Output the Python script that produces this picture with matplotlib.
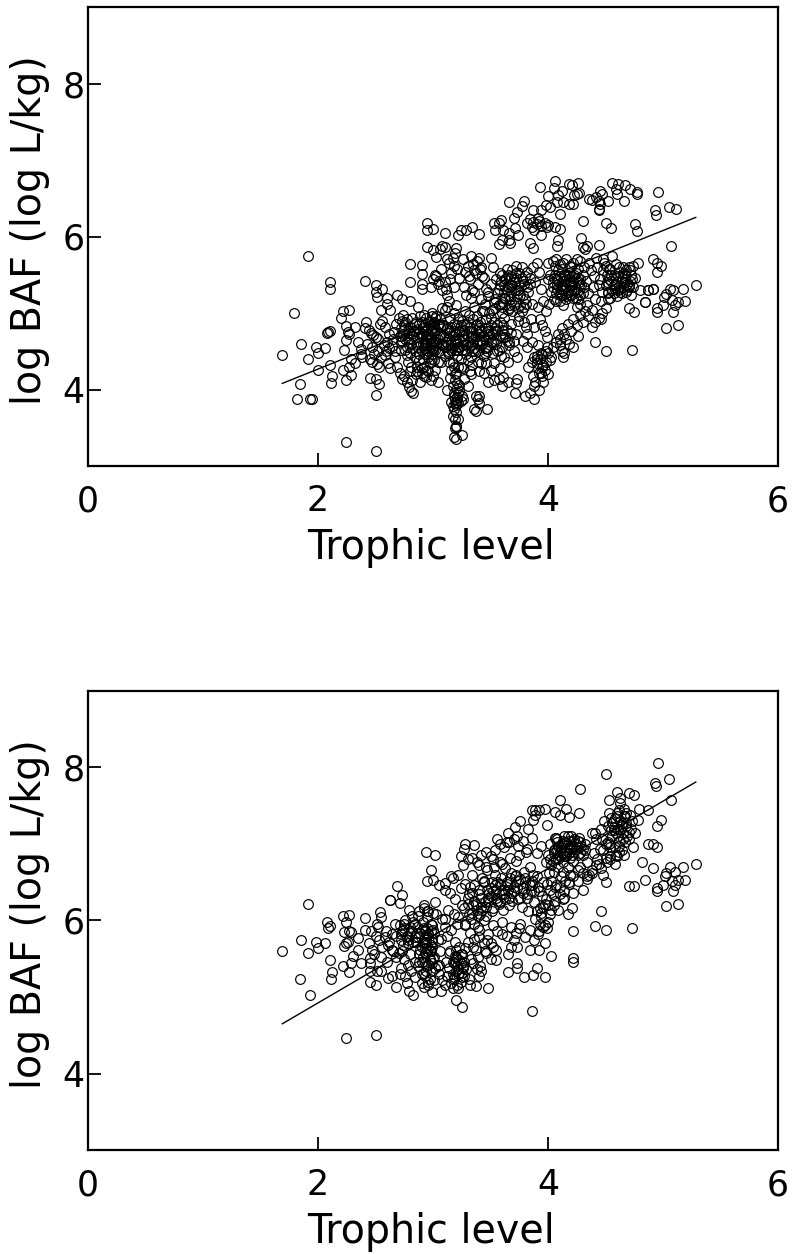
import numpy as np
import matplotlib
matplotlib.use("Agg")
import matplotlib.pyplot as plt

# -----------------------------
# FIT LINES
# -----------------------------
line_tl = [1.69, 5.285]
line_top = [4.08, 6.25]
line_bot = [4.65, 7.81]

# -----------------------------
# TOP PANEL DATA (region by region)
# -----------------------------
# left side and outliers
top_x1 = [1.69,1.91,1.79,2.10,2.10,2.41,2.24,2.50,1.85,1.91,
          1.98,2.00,2.06,2.08,2.09,2.10,2.00,2.10,1.84,1.82,
          1.93,1.95,2.12,2.11,2.22,2.27,2.20,2.24,2.26,2.27,
          2.24,2.23,2.22,2.24,2.29,2.27,2.29,2.32,2.32,2.35,
          2.37,2.37,2.38,2.41,2.42,2.45,2.50,2.53,2.50,2.50,
          2.50,2.51,2.56,2.60,2.60,2.55,2.63,2.69,2.73,2.80,2.87]
top_y1 = [4.45,5.75,5.00,5.41,5.31,5.42,3.32,3.20,4.59,4.40,
          4.56,4.48,4.54,4.74,4.75,4.76,4.25,4.32,4.07,3.88,
          3.88,3.87,4.18,4.08,5.03,5.04,4.93,4.83,4.75,4.72,
          4.65,4.51,4.25,4.13,4.19,4.30,4.40,4.34,4.82,4.62,
          4.53,4.47,4.43,4.80,4.88,4.15,4.14,4.07,3.93,5.36,
          5.27,5.21,5.31,5.19,5.12,5.04,5.04,5.23,5.18,5.16,5.08]
# low band 2.4 - 2.85
top_x2 = [2.44,2.46,2.48,2.50,2.52,2.45,2.47,2.49,2.51,2.53,
          2.55,2.57,2.59,2.61,2.63,2.54,2.56,2.58,2.60,2.62,
          2.65,2.67,2.69,2.71,2.73,2.64,2.66,2.68,2.70,2.72,
          2.75,2.77,2.79,2.81,2.83,2.74,2.76,2.78,2.80,2.82,
          2.43,2.47,2.52,2.58,2.62,2.67,2.72,2.77,2.81,2.85]
top_y2 = [4.78,4.74,4.71,4.68,4.66,4.40,4.36,4.46,4.33,4.29,
          4.42,4.58,4.50,4.35,4.28,4.85,4.89,4.82,4.62,4.54,
          4.66,4.43,4.30,4.22,4.14,4.57,4.75,4.86,4.94,4.70,
          4.18,4.10,4.03,3.98,3.96,4.98,4.52,4.36,4.24,4.12,
          4.60,4.55,4.50,4.45,4.72,4.50,4.62,4.45,4.30,4.20]
# first dense blob 2.7 - 3.05
top_x3 = [2.72,2.74,2.76,2.78,2.80,2.82,2.84,2.86,2.88,2.90,
          2.73,2.75,2.77,2.79,2.81,2.83,2.85,2.87,2.89,2.91,
          2.92,2.93,2.94,2.95,2.96,2.97,2.98,2.99,3.00,3.01,
          2.92,2.93,2.94,2.95,2.96,2.97,2.98,2.99,3.00,3.01,
          2.90,2.91,2.93,2.95,2.97,2.99,3.01,3.02,3.03,3.04,
          2.88,2.90,2.92,2.94,2.96,2.98,3.00,3.02,3.04,3.05,
          2.86,2.88,2.90,2.92,2.94,2.96,2.98,3.00,3.02,3.04,
          2.84,2.86,2.89,2.91,2.93,2.95,2.97,2.99,3.01,3.03]
top_y3 = [4.80,4.72,4.88,4.66,4.82,4.94,4.76,4.60,4.86,4.70,
          4.64,4.78,4.92,4.74,4.60,4.70,4.88,4.79,4.96,4.60,
          4.98,4.84,4.70,4.56,4.42,4.90,4.76,4.62,4.50,4.38,
          4.30,4.62,4.94,4.48,4.80,4.34,4.68,5.00,4.54,4.86,
          4.22,4.40,4.76,4.26,4.66,4.46,4.72,4.94,4.58,4.36,
          4.46,4.88,4.54,4.66,4.88,4.40,4.82,4.64,4.84,4.70,
          4.30,4.38,4.28,4.18,4.16,4.24,4.12,4.18,4.26,4.10,
          4.42,4.24,4.10,4.72,4.58,4.72,4.56,4.96,4.88,4.96]
# second dense blob 3.05 - 3.7
top_x4 = [3.06,3.08,3.10,3.12,3.14,3.16,3.18,3.20,3.22,3.24,
          3.07,3.09,3.11,3.13,3.15,3.17,3.19,3.21,3.23,3.25,
          3.26,3.28,3.30,3.32,3.34,3.36,3.38,3.40,3.42,3.44,
          3.27,3.29,3.31,3.33,3.35,3.37,3.39,3.41,3.43,3.45,
          3.46,3.48,3.50,3.52,3.54,3.56,3.58,3.60,3.62,3.64,
          3.47,3.49,3.51,3.53,3.55,3.57,3.59,3.61,3.63,3.65,
          3.06,3.10,3.14,3.18,3.22,3.26,3.30,3.34,3.38,3.42,
          3.08,3.12,3.16,3.20,3.24,3.28,3.32,3.36,3.40,3.44,
          3.46,3.50,3.54,3.58,3.62,3.66,3.68,3.70,3.72,3.74,
          3.10,3.15,3.20,3.25,3.30,3.35,3.40,3.45,3.50,3.55,
          3.05,3.13,3.21,3.29,3.37,3.45,3.53,3.61,3.69,3.77,
          3.09,3.17,3.25,3.33,3.41,3.49,3.57,3.65,3.73,3.81]
top_y4 = [4.72,4.58,4.44,4.80,4.66,4.52,4.86,4.72,4.56,4.40,
          4.36,4.84,4.62,4.48,4.94,4.34,4.60,4.44,4.76,4.90,
          4.66,4.52,4.38,4.82,4.68,4.54,4.96,4.72,4.58,4.44,
          4.86,4.72,4.98,4.42,4.60,4.78,4.36,4.88,5.02,4.66,
          4.92,4.76,4.62,4.48,5.06,4.84,4.70,4.56,4.94,4.78,
          4.50,5.00,4.72,4.88,4.60,5.10,4.44,4.84,4.68,5.04,
          4.92,5.04,4.36,5.00,4.92,4.28,4.70,4.32,4.86,4.34,
          5.06,5.08,4.26,5.10,4.30,5.02,4.24,5.08,4.24,5.02,
          4.34,4.26,4.76,4.28,4.42,4.62,4.86,4.50,4.72,4.90,
          4.68,4.76,4.64,4.76,4.62,4.92,4.64,4.80,4.94,4.66,
          4.86,4.58,4.62,4.84,4.70,4.54,4.34,4.68,5.02,5.02,
          4.60,4.70,4.52,4.58,4.76,4.68,4.52,4.36,4.42,4.82]
# lower tail near 3.2 and scattered low points
top_x5 = [3.12,3.15,3.17,3.18,3.19,3.20,3.21,3.22,3.23,3.24,
          3.16,3.17,3.18,3.19,3.20,3.21,3.22,3.23,3.25,3.26,
          3.19,3.20,3.20,3.19,3.20,3.25,3.18,3.22,3.36,3.40,
          3.37,3.39,3.40,3.47,3.37,3.27,3.30,3.33,3.44,3.48,
          3.53,3.57,3.61,3.60,3.65,3.71,3.73,3.72,3.80,3.88,
          3.84,3.88,3.92,3.95,3.97,3.87,3.89,3.91,3.94,3.96,
          3.86,3.88,3.90,3.93,3.95,3.98,4.00,4.02,4.04,3.83,
          4.07,4.10,4.12,4.14,4.16,4.09,4.13,4.18,4.22,4.26]
top_y5 = [4.00,4.15,4.05,3.96,3.88,3.84,3.90,3.95,4.06,3.85,
          3.84,3.78,3.74,3.82,3.70,3.86,3.82,3.98,3.92,3.88,
          3.62,3.52,3.51,3.50,3.35,3.40,3.38,3.62,3.75,3.92,
          3.92,3.88,3.83,3.75,3.72,4.14,4.05,4.20,4.22,4.10,
          4.12,4.14,4.16,4.05,4.10,3.95,4.14,4.08,3.92,3.88,
          3.96,4.05,4.00,4.18,4.25,4.18,4.10,4.28,4.22,4.32,
          4.36,4.42,4.35,4.40,4.45,4.50,4.48,4.38,4.55,4.30,
          4.62,4.58,4.50,4.48,4.66,4.72,4.42,4.60,4.55,4.70]
# mid blob 3.4 - 3.95, y 5 - 5.7
top_x6 = [3.45,3.48,3.51,3.54,3.57,3.60,3.63,3.66,3.69,3.72,
          3.50,3.53,3.56,3.59,3.62,3.65,3.68,3.71,3.74,3.77,
          3.55,3.58,3.61,3.64,3.67,3.70,3.73,3.76,3.79,3.82,
          3.60,3.63,3.66,3.69,3.72,3.75,3.78,3.81,3.84,3.87,
          3.62,3.65,3.68,3.71,3.74,3.77,3.80,3.83,3.86,3.89,
          3.90,3.92,3.94,3.96,3.98,4.00,3.91,3.93,3.95,3.97,
          3.99,3.75,3.79,3.82,3.85,3.88,3.78,3.82,3.86,3.90]
top_y6 = [5.12,5.28,5.04,5.18,5.32,5.08,5.44,5.22,5.36,5.52,
          5.38,5.14,5.26,5.42,5.28,5.34,5.48,5.14,5.30,5.46,
          5.44,5.52,5.14,5.58,5.10,5.44,5.22,5.10,5.38,5.54,
          5.00,5.20,5.06,5.56,5.62,5.36,5.24,5.12,5.46,5.60,
          5.36,5.50,5.28,5.30,5.06,5.60,5.48,5.28,5.12,5.40,
          5.66,5.54,5.32,5.16,5.02,5.44,5.08,4.92,4.84,4.76,
          4.68,4.96,4.88,4.72,4.92,4.82,4.64,4.56,4.62,4.44]
# upper left scatter 2.8 - 3.6, y 5.2 - 6.2
top_x7 = [2.80,2.80,2.90,2.90,2.90,2.90,2.95,2.95,3.00,3.10,
          2.95,3.00,3.03,3.08,3.06,3.10,3.20,3.22,3.24,3.29,
          3.34,3.40,3.00,3.02,3.04,3.07,3.11,3.12,3.14,3.16,
          3.18,3.15,3.17,3.19,3.21,3.23,3.26,3.28,3.30,3.32,
          3.34,3.36,3.38,3.40,3.42,3.44,3.46,3.48,3.27,3.29,
          3.31,3.33,3.35,3.37,3.39,3.12,3.14,3.18,3.10,3.08,
          3.03,2.98,3.05,3.41,3.43,3.36,3.33,3.50,3.52,3.42]
top_y7 = [5.64,5.40,5.63,5.51,5.38,5.32,6.17,6.09,6.10,6.05,
          5.86,5.82,5.73,5.87,5.84,5.86,5.85,6.02,6.09,6.08,
          6.12,6.03,5.45,5.50,5.38,5.58,5.32,5.70,5.66,5.52,
          5.62,5.44,5.72,5.78,5.58,5.46,5.70,5.54,5.62,5.44,
          5.30,5.56,5.68,5.72,5.60,5.46,5.32,5.22,5.34,5.24,
          5.48,5.74,5.64,5.52,5.38,5.24,5.16,5.34,5.40,5.30,
          5.48,5.34,5.42,5.58,5.48,5.28,5.20,5.72,5.60,5.18]
# upper band 3.5 - 5.2
top_x8 = [3.66,3.79,3.77,3.73,3.70,3.53,3.59,3.57,3.54,3.61,
          3.71,3.74,3.66,3.66,3.60,3.57,3.67,3.87,3.94,3.84,
          3.82,3.86,3.87,3.90,3.92,3.94,3.97,3.99,3.88,3.91,
          3.94,3.84,3.87,4.06,4.10,4.09,4.08,4.00,3.93,4.06,
          4.05,4.00,4.12,4.18,4.21,4.26,4.25,4.27,4.23,4.08,
          4.13,4.18,4.22,4.09,4.02,3.98,4.10,4.30,4.29,4.30,
          4.32,4.34,4.44,4.50,4.55,4.38,4.42,4.45,4.44,4.44,
          4.45,4.52,4.47,4.36,4.44,4.56,4.61,4.67,4.71,4.59,
          4.60,4.66,4.77,4.77,4.96,4.93,4.94,5.05,5.11,4.76,
          4.77,5.07]
top_y8 = [6.45,6.46,6.40,6.32,6.24,6.17,6.22,6.17,6.08,6.08,
          6.11,6.02,6.04,5.95,5.95,5.90,5.92,6.34,6.34,6.23,
          6.17,6.12,6.19,6.16,6.20,6.14,6.18,6.12,6.08,6.24,
          6.02,5.92,5.85,6.12,6.10,5.96,5.88,6.15,6.65,6.72,
          6.64,6.53,6.60,6.69,6.67,6.70,6.56,6.57,6.54,6.45,
          6.45,6.43,6.43,6.54,6.38,6.41,6.30,6.20,5.98,5.86,
          5.84,5.88,5.89,6.18,6.11,6.48,6.51,6.60,6.47,6.36,
          6.43,6.47,6.56,6.49,6.34,6.70,6.69,6.67,6.62,6.62,
          6.56,6.47,6.56,6.58,6.58,6.34,6.28,6.38,6.36,6.16,
          6.07,5.88]
# right dense blobs 4.0 - 4.8
top_x9 = [4.00,4.02,4.04,4.06,4.08,4.10,4.12,4.14,4.16,4.18,
          4.01,4.03,4.05,4.07,4.09,4.11,4.13,4.15,4.17,4.19,
          4.20,4.21,4.22,4.23,4.24,4.25,4.26,4.27,4.28,4.30,
          4.04,4.07,4.10,4.13,4.16,4.19,4.22,4.25,4.28,4.31,
          4.33,4.35,4.37,4.39,4.41,4.43,4.45,4.47,4.49,4.51,
          4.34,4.36,4.38,4.40,4.42,4.44,4.46,4.48,4.50,4.52,
          4.53,4.55,4.57,4.59,4.61,4.63,4.65,4.67,4.69,4.71,
          4.54,4.56,4.58,4.60,4.62,4.64,4.66,4.68,4.70,4.72,
          4.74,4.76,4.78,4.80,4.50,4.47,4.44,4.41,4.38,4.35,
          4.32,4.30,4.28,4.25,4.22,4.20,4.17,4.14,4.12,4.10,
          4.84,4.87,4.91,4.91,4.95,4.98,4.95,5.06,5.03,5.01,
          5.09,5.17,5.08,5.19,5.13,5.10,5.09,4.95,4.95,5.00,
          5.03,5.13,4.84,4.87,4.91,5.29,4.41,4.50,4.73,4.46,4.70,4.75]
top_y9 = [5.66,5.50,5.34,5.62,5.44,5.24,5.58,5.38,5.18,5.52,
          5.12,5.28,5.46,5.16,5.56,5.32,5.10,5.48,5.28,5.42,
          5.60,5.36,5.20,5.50,5.32,5.08,5.58,5.40,5.24,5.50,
          5.68,5.70,5.64,5.66,5.70,5.62,5.66,5.70,5.68,5.60,
          5.42,5.26,5.56,5.34,5.18,5.60,5.44,5.28,5.66,5.50,
          5.10,5.66,5.04,5.48,5.72,5.36,5.16,5.70,5.36,5.18,
          5.58,5.42,5.26,5.64,5.48,5.32,5.60,5.44,5.30,5.56,
          5.20,5.74,5.36,5.22,5.60,5.26,5.40,5.56,5.34,5.50,
          5.62,5.46,5.66,5.30,5.06,5.00,4.94,4.88,4.82,4.96,
          5.02,4.88,4.98,4.84,4.92,4.76,4.86,4.72,4.80,4.66,
          5.15,5.30,5.31,5.70,5.66,5.62,5.54,5.32,5.25,5.21,
          5.30,5.32,5.17,5.16,5.14,5.10,5.01,5.06,5.01,5.11,
          4.80,4.84,5.15,5.30,5.31,5.36,4.62,4.50,4.52,4.92,5.07,5.01]
# extra points filling the darkest clusters
top_x10 = [2.71,2.75,2.79,2.83,2.87,2.91,2.95,2.99,3.03,3.07,
           2.73,2.77,2.81,2.85,2.89,2.93,2.97,3.01,3.05,3.09,
           2.72,2.76,2.80,2.84,2.88,2.92,2.96,3.00,3.04,3.08,
           2.78,2.82,2.86,2.90,2.94,2.98,3.02,3.06,3.10,3.14,
           3.11,3.15,3.19,3.23,3.27,3.31,3.35,3.39,3.43,3.47,
           3.13,3.17,3.21,3.25,3.29,3.33,3.37,3.41,3.45,3.49,
           3.12,3.16,3.20,3.24,3.28,3.32,3.36,3.40,3.44,3.48,
           3.14,3.18,3.22,3.26,3.30,3.34,3.38,3.42,3.46,3.50,
           3.52,3.56,3.60,3.64,3.68,3.54,3.58,3.62,3.66,3.70,
           3.18,3.19,3.20,3.21,3.22,3.17,3.18,3.19,3.20,3.21]
top_y10 = [4.70,4.84,4.62,4.76,4.56,4.80,4.66,4.52,4.78,4.60,
           4.90,4.56,4.72,4.50,4.68,4.46,4.84,4.62,4.50,4.70,
           4.52,4.66,4.48,4.86,4.74,4.64,4.50,4.76,4.66,4.84,
           4.78,4.54,4.68,4.52,4.76,4.60,4.52,4.82,4.56,4.74,
           4.62,4.82,4.52,4.66,4.78,4.56,4.70,4.50,4.64,4.76,
           4.50,4.70,4.84,4.58,4.46,4.68,4.84,4.62,4.48,4.72,
           4.80,4.56,4.66,4.84,4.60,4.76,4.50,4.80,4.70,4.56,
           4.46,4.76,4.52,4.70,4.88,4.50,4.64,4.78,4.54,4.84,
           4.64,4.50,4.78,4.64,4.74,4.80,4.88,4.72,4.58,4.64,
           4.30,4.12,4.22,4.02,4.30,3.66,3.92,4.20,3.80,4.08]
top_x11 = [3.58,3.62,3.66,3.70,3.74,3.78,3.82,3.60,3.64,3.68,
           3.72,3.76,3.80,3.84,3.59,3.63,3.67,3.71,3.75,3.79,
           4.04,4.07,4.10,4.13,4.16,4.19,4.22,4.25,4.28,4.31,
           4.05,4.08,4.11,4.14,4.17,4.20,4.23,4.26,4.29,4.06,
           4.09,4.12,4.15,4.18,4.21,4.24,4.27,4.30,4.10,4.14,
           4.18,4.22,4.26,4.12,4.16,4.20,4.24,4.08,4.18,4.28,
           4.52,4.55,4.58,4.61,4.64,4.67,4.70,4.73,4.53,4.56,
           4.59,4.62,4.65,4.68,4.71,4.74,4.54,4.57,4.60,4.63,
           4.66,4.69,4.72,4.51,4.58,4.64,4.70,4.48,4.50,4.52,
           3.90,3.92,3.94,3.96,3.98,4.00,3.91,3.95,3.99,4.03]
top_y11 = [5.36,5.20,5.44,5.10,5.30,5.42,5.34,5.50,5.30,5.36,
           5.46,5.24,5.18,5.38,5.12,5.44,5.18,5.40,5.52,5.08,
           5.40,5.26,5.48,5.30,5.22,5.34,5.42,5.28,5.44,5.34,
           5.18,5.36,5.32,5.42,5.50,5.24,5.30,5.46,5.36,5.50,
           5.42,5.24,5.34,5.44,5.48,5.20,5.36,5.26,5.16,5.50,
           5.24,5.40,5.18,5.36,5.44,5.30,5.52,5.32,5.36,5.12,
           5.26,5.50,5.38,5.30,5.42,5.50,5.36,5.44,5.44,5.30,
           5.46,5.54,5.34,5.28,5.42,5.34,5.58,5.50,5.40,5.28,
           5.52,5.38,5.24,5.40,5.32,5.46,5.60,5.56,5.62,5.28,
           4.40,4.22,4.48,4.10,4.36,4.20,4.58,4.30,4.56,4.42]

# -----------------------------
# BOTTOM PANEL DATA
# -----------------------------
# outliers and left side
bot_x1 = [1.69,1.91,1.85,1.91,1.98,2.00,2.06,2.08,2.10,2.09,
          2.10,2.12,2.11,1.84,1.93,2.22,2.27,2.24,2.23,2.27,
          2.29,2.24,2.23,2.26,2.22,2.27,2.29,2.30,2.35,2.37,
          2.35,2.41,2.41,2.24,2.50,2.45,2.45,2.45,2.51,2.55,
          2.45,2.50,2.61,2.64,2.68,2.71,2.77,2.79,2.83,2.92,
          2.99,2.54,2.55,2.51,2.63,2.63,2.71,2.69,2.73]
bot_y1 = [5.60,6.22,5.74,5.57,5.72,5.64,5.71,5.98,5.93,5.90,
          5.48,5.33,5.24,5.23,5.02,6.06,6.07,5.98,5.85,5.86,
          5.85,5.71,5.67,5.72,5.40,5.33,5.44,5.54,5.62,5.45,
          5.77,6.03,5.88,4.47,4.50,5.51,5.45,5.34,5.34,5.34,
          5.19,5.16,5.25,5.27,5.13,5.30,5.18,5.08,5.03,5.13,
          5.06,6.11,6.05,5.95,6.27,6.27,6.23,6.45,6.33]
# upper edge and right scatter
bot_x2 = [2.94,3.02,2.98,2.95,3.00,3.05,3.10,3.17,3.28,3.36,
          3.27,3.24,3.56,3.65,3.71,3.76,3.73,3.83,3.86,3.89,
          3.92,3.97,3.89,3.87,3.99,4.06,4.10,4.16,4.18,4.10,
          4.28,4.27,4.50,4.96,4.93,4.94,5.05,5.07,4.60,4.70,
          4.75,4.53,4.63,4.63,4.87,4.79,4.98,4.95,4.87,4.91,
          4.95,4.91,4.82,5.29,5.17,5.06,5.03,5.02,5.10,5.08,
          5.19,5.13,5.10,5.09,4.95,4.95,5.00,5.03,5.13,4.84,
          4.70,4.75,4.48,4.50,4.46,4.41,4.50,4.73,4.22,4.22,
          4.22,3.86,4.03,3.90,3.87,3.79,3.97,3.73,3.73,3.65,
          3.68,3.73,3.84,3.92,3.97,3.48,3.37,3.25,3.20,3.17]
bot_y2 = [6.89,6.85,6.66,6.52,6.53,6.47,6.49,6.56,7.00,6.99,
          6.94,6.84,7.06,7.15,7.22,7.30,7.11,7.19,7.44,7.45,
          7.45,7.46,7.38,7.32,7.25,7.42,7.58,7.46,7.35,7.38,
          7.72,7.41,7.91,8.06,7.80,7.76,7.85,7.57,7.68,7.67,
          7.64,7.57,7.60,7.54,7.45,7.46,7.31,7.24,7.00,7.00,
          6.96,6.69,6.77,6.74,6.70,6.70,6.62,6.58,6.64,6.51,
          6.53,6.53,6.46,6.38,6.43,6.38,6.46,6.19,6.22,6.53,
          6.45,6.45,6.60,6.50,6.12,5.93,5.87,5.90,5.86,5.51,
          5.46,4.82,5.53,5.38,5.29,5.26,5.26,5.44,5.38,5.33,
          5.66,5.66,5.62,5.62,5.71,5.12,5.14,4.87,4.96,5.12]
# dense band 2.4 - 3.1
bot_x3 = [2.44,2.47,2.50,2.53,2.56,2.59,2.62,2.65,2.68,2.71,
          2.46,2.49,2.52,2.55,2.58,2.61,2.64,2.67,2.70,2.73,
          2.72,2.74,2.76,2.78,2.80,2.82,2.84,2.86,2.88,2.90,
          2.73,2.75,2.77,2.79,2.81,2.83,2.85,2.87,2.89,2.91,
          2.92,2.93,2.94,2.95,2.96,2.97,2.98,2.99,3.00,3.01,
          2.90,2.91,2.92,2.93,2.94,2.95,2.96,2.97,2.98,2.99,
          2.92,2.94,2.96,2.98,3.00,3.02,3.04,3.06,3.08,3.10,
          2.88,2.90,2.93,2.95,2.97,2.99,3.01,3.03,3.05,3.07,
          2.75,2.78,2.81,2.84,2.87,2.90,2.93,2.96,2.99,3.02,
          2.60,2.64,2.68,2.72,2.76,2.80,2.84,2.88,2.92,2.96]
bot_y3 = [5.70,5.62,5.80,5.74,5.66,5.86,5.72,5.60,5.80,5.94,
          5.86,5.56,5.92,5.52,5.78,5.68,5.82,5.96,5.58,5.86,
          5.74,5.88,6.00,5.70,5.84,6.06,5.78,5.92,6.12,5.66,
          5.60,5.96,5.78,6.14,5.86,5.98,5.72,6.06,5.84,5.98,
          6.16,5.88,5.72,6.04,5.82,5.62,5.96,5.76,6.10,5.52,
          5.46,5.70,5.90,5.58,5.40,5.80,5.64,5.48,5.86,5.34,
          6.20,5.34,6.12,5.60,5.88,6.24,5.74,5.60,6.02,5.92,
          5.56,5.30,5.28,6.12,5.24,5.44,5.22,6.08,5.42,5.76,
          5.50,5.42,5.34,5.46,5.40,5.18,5.64,5.20,5.72,5.38,
          5.46,5.62,5.52,5.38,5.28,5.56,5.26,5.46,5.32,5.16]
# lower tail near 3.2
bot_x4 = [3.05,3.08,3.10,3.12,3.14,3.16,3.18,3.20,3.22,3.24,
          3.15,3.17,3.19,3.21,3.23,3.25,3.27,3.29,3.31,3.33,
          3.17,3.18,3.19,3.20,3.21,3.22,3.23,3.24,3.25,3.26,
          3.35,3.38,3.40,3.42,3.37,3.39,3.36,3.44,3.46,3.50,
          3.04,3.07,3.11,3.14,3.28,3.32,3.41,3.47,3.52,3.55]
bot_y4 = [5.30,5.22,5.16,5.28,5.38,5.18,5.26,5.34,5.12,5.20,
          5.60,5.46,5.54,5.40,5.48,5.56,5.28,5.36,5.24,5.50,
          5.30,5.24,5.44,5.52,5.16,5.36,5.32,5.44,5.26,5.38,
          5.44,5.36,5.28,5.34,5.62,5.52,5.76,5.70,5.58,5.50,
          5.40,5.08,5.46,5.58,5.64,5.16,5.40,5.74,5.66,5.48]
# central rising band 3.1 - 4.0
bot_x5 = [3.10,3.13,3.16,3.19,3.22,3.25,3.28,3.31,3.34,3.37,
          3.12,3.15,3.18,3.21,3.24,3.27,3.30,3.33,3.36,3.39,
          3.40,3.42,3.44,3.46,3.48,3.50,3.52,3.54,3.56,3.58,
          3.41,3.43,3.45,3.47,3.49,3.51,3.53,3.55,3.57,3.59,
          3.60,3.62,3.64,3.66,3.68,3.70,3.72,3.74,3.76,3.78,
          3.61,3.63,3.65,3.67,3.69,3.71,3.73,3.75,3.77,3.79,
          3.80,3.82,3.84,3.86,3.88,3.90,3.92,3.94,3.96,3.98,
          3.81,3.83,3.85,3.87,3.89,3.91,3.93,3.95,3.97,3.99,
          3.26,3.30,3.34,3.38,3.42,3.46,3.50,3.54,3.58,3.62,
          3.28,3.32,3.36,3.40,3.44,3.48,3.52,3.56,3.60,3.64,
          3.66,3.70,3.74,3.78,3.82,3.86,3.90,3.94,3.98,4.02,
          3.68,3.72,3.76,3.80,3.84,3.88,3.92,3.96,4.00,4.04,
          3.30,3.35,3.40,3.45,3.50,3.55,3.60,3.65,3.70,3.75,
          3.10,3.16,3.22,3.28,3.34,3.40,3.46,3.52,3.58,3.64]
bot_y5 = [6.02,6.14,5.88,6.28,6.04,6.20,5.94,6.34,6.10,6.22,
          5.80,6.36,6.08,5.96,6.42,6.16,6.30,6.02,6.46,5.92,
          6.34,6.18,6.50,6.06,6.30,6.42,6.16,6.60,6.26,6.48,
          6.08,6.56,6.24,6.66,6.36,6.12,6.70,6.40,6.22,6.56,
          6.74,6.34,6.50,6.20,6.62,6.44,6.78,6.28,6.54,6.36,
          6.14,6.68,6.40,6.82,6.26,6.58,6.42,6.86,6.18,6.64,
          6.50,6.30,6.70,6.46,6.24,6.58,6.38,6.10,6.50,6.28,
          6.90,6.12,6.38,6.60,6.02,6.44,6.16,6.32,5.94,6.48,
          6.72,6.80,6.60,6.76,6.86,6.70,6.84,6.92,6.76,6.96,
          5.96,5.84,5.96,5.88,6.00,5.82,5.94,5.86,5.98,5.80,
          7.02,7.06,6.98,7.04,6.94,7.08,6.88,6.98,6.76,6.80,
          5.92,5.84,5.96,5.78,5.88,5.74,5.86,5.92,6.20,6.34,
          5.72,5.66,5.78,5.60,5.70,5.62,5.82,5.56,5.74,5.90,
          6.40,6.58,6.60,6.48,6.82,6.72,6.90,6.80,7.00,7.02]
# right dense blobs 4.0 - 4.8
bot_x6 = [4.00,4.02,4.04,4.06,4.08,4.10,4.12,4.14,4.16,4.18,
          4.01,4.03,4.05,4.07,4.09,4.11,4.13,4.15,4.17,4.19,
          4.03,4.05,4.07,4.09,4.11,4.13,4.15,4.17,4.19,4.21,
          4.20,4.22,4.24,4.26,4.28,4.30,4.32,4.34,4.36,4.38,
          4.02,4.06,4.10,4.14,4.18,4.22,4.26,4.30,4.34,4.38,
          4.40,4.42,4.44,4.46,4.48,4.50,4.52,4.54,4.56,4.58,
          4.41,4.43,4.45,4.47,4.49,4.51,4.53,4.55,4.57,4.59,
          4.60,4.61,4.62,4.63,4.64,4.65,4.66,4.67,4.68,4.69,
          4.60,4.62,4.64,4.66,4.68,4.70,4.72,4.74,4.76,4.78,
          4.06,4.10,4.14,4.18,4.22,4.26,4.30,4.34,4.38,4.42,
          4.46,4.50,4.54,4.58,4.62,4.05,4.09,4.13,4.17,4.21]
bot_y6 = [6.86,7.00,6.78,6.94,7.06,6.84,7.00,7.10,6.88,7.04,
          6.62,6.72,6.92,7.08,6.80,6.96,6.76,6.92,7.10,6.82,
          6.52,6.64,6.46,6.70,6.58,6.64,6.52,6.70,6.60,6.96,
          7.10,6.78,6.94,7.04,6.70,6.86,7.00,6.76,6.60,7.14,
          6.40,6.26,6.44,6.30,6.50,6.36,6.52,6.40,6.58,6.62,
          6.88,7.06,6.74,7.20,6.92,7.00,7.24,6.84,7.10,6.96,
          7.14,6.80,6.94,7.06,7.30,6.76,7.00,7.34,7.18,6.86,
          7.40,7.20,7.04,7.30,6.92,7.14,7.36,7.02,7.24,7.10,
          6.84,6.98,7.28,6.86,7.40,7.06,7.20,6.96,7.14,7.32,
          6.44,6.34,6.38,6.48,6.58,6.66,6.62,6.54,6.66,6.72,
          6.68,6.82,6.80,6.74,6.90,6.20,6.14,6.28,6.08,6.16]
# extra points filling the darkest clusters
bot_x7 = [2.72,2.75,2.78,2.81,2.84,2.87,2.90,2.93,2.96,2.99,
          2.74,2.77,2.80,2.83,2.86,2.89,2.92,2.95,2.98,3.01,
          2.91,2.93,2.95,2.97,2.99,2.92,2.94,2.96,2.98,3.00,
          3.18,3.20,3.22,3.24,3.26,3.19,3.21,3.23,3.25,3.27,
          3.30,3.34,3.38,3.42,3.46,3.50,3.54,3.58,3.62,3.66,
          3.32,3.36,3.40,3.44,3.48,3.52,3.56,3.60,3.64,3.68,
          3.31,3.35,3.39,3.43,3.47,3.51,3.55,3.59,3.63,3.67,
          3.70,3.74,3.78,3.82,3.86,3.72,3.76,3.80,3.84,3.88,
          3.90,3.93,3.96,3.99,4.02,3.91,3.94,3.97,4.00,4.03,
          4.05,4.08,4.11,4.14,4.17,4.20,4.23,4.26,4.29,4.32,
          4.06,4.09,4.12,4.15,4.18,4.21,4.24,4.27,4.30,4.07,
          4.10,4.13,4.16,4.19,4.22,4.25,4.28,4.08,4.18,4.28,
          4.52,4.55,4.58,4.61,4.64,4.67,4.70,4.73,4.53,4.56,
          4.59,4.62,4.65,4.68,4.71,4.54,4.57,4.60,4.63,4.66]
bot_y7 = [5.82,5.90,5.74,5.86,5.96,5.78,5.88,5.70,5.82,5.94,
          5.68,5.80,5.92,5.72,5.84,5.62,5.76,5.90,5.68,5.84,
          5.52,5.44,5.60,5.50,5.66,5.72,5.58,5.42,5.60,5.50,
          5.44,5.62,5.30,5.56,5.40,5.72,5.50,5.66,5.32,5.46,
          6.22,6.36,6.14,6.30,6.18,6.32,6.46,6.24,6.40,6.30,
          6.44,6.26,6.40,6.52,6.26,6.38,6.50,6.34,6.48,6.36,
          6.08,6.20,6.06,6.14,6.40,6.50,6.30,6.46,6.28,6.56,
          6.38,6.52,6.42,6.34,6.52,6.60,6.30,6.56,6.46,6.38,
          6.12,5.96,6.18,5.90,6.08,5.82,6.04,6.22,5.98,6.14,
          6.88,7.02,6.92,6.84,7.00,6.94,7.06,6.86,6.98,6.92,
          7.08,6.98,6.88,7.02,6.96,6.86,7.00,7.08,6.94,6.80,
          6.90,7.04,6.84,6.94,7.04,6.96,6.88,6.94,6.88,7.02,
          7.02,7.18,7.34,7.10,7.24,7.36,7.16,7.30,7.40,7.28,
          7.14,7.44,7.06,7.28,7.38,6.96,7.22,7.36,7.20,7.46]

top_x = np.concatenate([top_x1, top_x2, top_x3, top_x4, top_x5, top_x6, top_x7, top_x8, top_x9, top_x10, top_x11])
top_y = np.concatenate([top_y1, top_y2, top_y3, top_y4, top_y5, top_y6, top_y7, top_y8, top_y9, top_y10, top_y11])
bot_x = np.concatenate([bot_x1, bot_x2, bot_x3, bot_x4, bot_x5, bot_x6, bot_x7])
bot_y = np.concatenate([bot_y1, bot_y2, bot_y3, bot_y4, bot_y5, bot_y6, bot_y7])

# -----------------------------
# PLOT
# -----------------------------
W, H = 792, 1254
fig = plt.figure(figsize=(W / 100, H / 100), dpi=100)


def panel(top_px, xs, ys, fit):
    ax = fig.add_axes([88 / W, 1 - (top_px + 459) / H, 690 / W, 459 / H])
    ax.plot(line_tl, fit, color="black", lw=1.0)
    ax.plot(xs, ys, "o", mfc="none", mec="black", ms=7, mew=0.85)
    ax.set_xlim(0, 6)
    ax.set_ylim(3, 9)
    ax.set_xticks([0, 2, 4, 6])
    ax.set_yticks([4, 6, 8])
    ax.tick_params(direction="in", length=9.5, width=1.3, labelsize=25)
    ax.tick_params(axis="x", pad=13)
    ax.tick_params(axis="y", pad=2.5)
    ax.set_xlabel("Trophic level", fontsize=28.5, va="center")
    ax.set_ylabel("log BAF (log L/kg)", fontsize=28.5, va="center")
    ax.xaxis.set_label_coords(0.4965, -0.1786)
    ax.yaxis.set_label_coords(-0.084, 0.514)
    for s in ax.spines.values():
        s.set_linewidth(1.6)


panel(7, top_x, top_y, line_top)
panel(691, bot_x, bot_y, line_bot)

fig.savefig("out.png", dpi=100)
